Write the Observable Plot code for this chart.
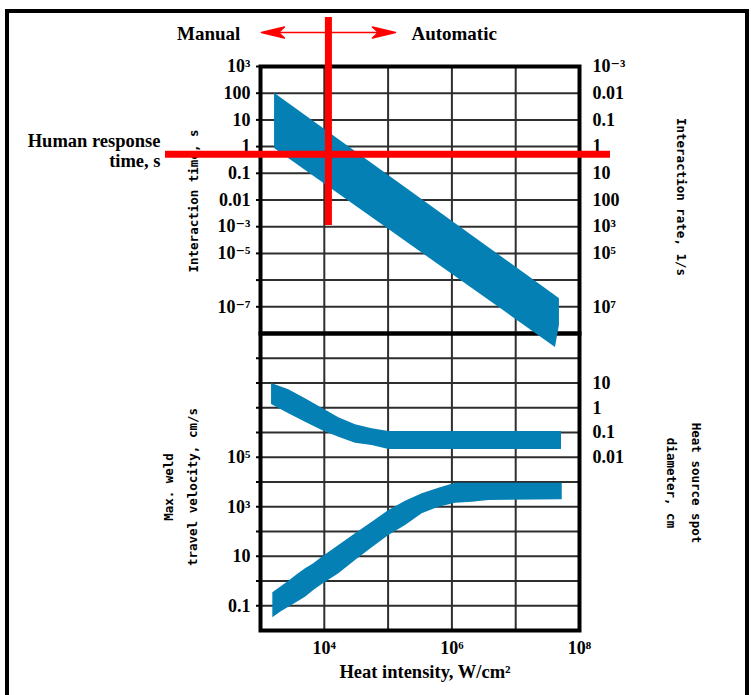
<!DOCTYPE html>
<html><head><meta charset="utf-8">
<script src="https://cdn.jsdelivr.net/npm/d3@7"></script>
<script src="https://cdn.jsdelivr.net/npm/@observablehq/plot@0.6"></script>
<style>
html,body{margin:0;padding:0;background:#fff;}
#wrap{position:relative;width:751px;height:695px;overflow:hidden;background:#fff;}
#border{position:absolute;left:5px;top:9px;width:736px;height:720px;border:4px solid #000;}
#bottom{position:absolute;left:0;top:300px;}
#top{position:absolute;left:0;top:0;}
svg{overflow:visible;}
</style></head><body>
<div id="wrap"><div id="border"></div><div id="bottom"></div><div id="top"></div></div>
<script>
// ---------- data ----------
const xDomain = [1e3, 1e8];                 // heat intensity, W/cm²
const xGrid = [1e4, 1e5, 1e6, 1e7];
const xTicks = [1e4, 1e6, 1e8];
const xTickLabels = ["10⁴", "10⁶", "10⁸"];

// top panel: interaction time (s) / interaction rate (1/s)
const timeDomain = [1e-7, 1e3];
const timeTicks = [1e3, 1e2, 10, 1, 0.1, 0.01, 1e-3, 1e-4, 1e-5, 1e-6];
const timeLabels = ["10³", "100", "10", "1", "0.1", "0.01", "10⁻³", "10⁻⁵", "", "10⁻⁷"];
const rateLabels = ["10⁻³", "0.01", "0.1", "1", "10", "100", "10³", "10⁵", "", "10⁷"];

const timeBandIntensity = [1660, 4.2e7, 4.85e7];
const timeBandMax = [100, 2.6e-6, 2.0e-6];
const timeBandMin = [0.85, 3.0e-8, 2.0e-7];

const humanResponseTime = 0.52;     // s
const manualLimit = 1.16e4;         // W/cm²
const manualLineEndTime = 1.1e-3;   // s
const modes = ["Manual", "Automatic"];

// bottom panel: max weld travel velocity (cm/s) / heat source spot diameter (cm)
const velDomain = [1e-2, 1e10];
const velGrid = [1e9, 1e8, 1e7, 1e6, 1e5, 1e4, 1e3, 1e2, 10, 1, 0.1];
const velTickValues = [1e5, 1e3, 10, 0.1];
const velTickLabels = ["10⁵", "10³", "10", "0.1"];
const diaOffset = 1e7;              // 1 cm spot diameter aligned with 10⁷ on the velocity axis
const diaTicks = [10, 1, 0.1, 0.01];
const diaTickLabels = ["10", "1", "0.1", "0.01"];

const spotIntensity = [1490, 2780, 5070, 9270, 16900, 30800, 56200, 102600, 5.22e7];
const spotMax = [9.55, 5.31, 2.30, 0.96, 0.393, 0.205, 0.141, 0.110, 0.110];
const spotMin = [1.35, 0.570, 0.261, 0.120, 0.0646, 0.037, 0.0299, 0.0206, 0.0206];

const velIntensity = [1560, 2060, 2780, 3760, 5070, 6840, 9270, 16900, 30800, 56400, 102600, 187500, 342000, 624000, 1.14e6, 2.08e6, 3.79e6, 5.36e7];
const velMax = [0.333, 0.562, 0.984, 1.77, 3.10, 4.94, 9.18, 27.2, 80.5, 238, 705, 1680, 3330, 5640, 8970, 8970, 8970, 8970];
const velMin = [0.0325, 0.0551, 0.0877, 0.140, 0.222, 0.413, 0.723, 1.95, 6.73, 21.9, 68.9, 175, 518, 962, 1400, 1530, 1790, 1900];

// ---------- tables ----------
const timeBand = timeBandIntensity.map((x, i) => ({x, min: timeBandMin[i], max: timeBandMax[i]}));
const spotBand = spotIntensity.map((x, i) => ({x, min: spotMin[i], max: spotMax[i]}));
const velBand = velIntensity.map((x, i) => ({x, min: velMin[i], max: velMax[i]}));
const timeLabelMap = new Map(timeTicks.map((d, i) => [d, timeLabels[i]]));
const rateLabelMap = new Map(timeTicks.map((d, i) => [d, rateLabels[i]]));
const xLabelMap = new Map(xTicks.map((d, i) => [d, xTickLabels[i]]));
const velLabelMap = new Map(velTickValues.map((d, i) => [d, velTickLabels[i]]));
const diaTickPos = diaTicks.map(d => d * diaOffset);
const diaLabelMap = new Map(diaTickPos.map((d, i) => [d, diaTickLabels[i]]));

// ---------- styles ----------
const serif = "'Liberation Serif', 'DejaVu Serif', serif";
const mono = "'DejaVu Sans Mono', 'Liberation Mono', monospace";
const blue = "#0580b5", red = "#ff0000", gridColor = "#2e2e2e";
const baseStyle = {fontFamily: serif, fontSize: "18px", fontWeight: "bold", background: "transparent", overflow: "visible", color: "black"};
const gridOpts = {stroke: gridColor, strokeOpacity: 1, strokeWidth: 2};
const monoText = {fontFamily: mono, fontSize: 12.5, fontWeight: "bold", textAnchor: "middle", lineAnchor: "middle"};

const arrowShape = {
  draw(ctx, l, r) {
    ctx.moveTo(0, 0);
    ctx.lineTo(0, -l + 18);
    ctx.moveTo(0, -l);
    ctx.lineTo(5.5, -l + 23);
    ctx.lineTo(0, -l + 17);
    ctx.lineTo(-5.5, -l + 23);
    ctx.closePath();
  }
};

// ---------- top panel ----------
const topPlot = Plot.plot({
  width: 751, height: 360,
  marginLeft: 260, marginRight: 172, marginTop: 66, marginBottom: 27,
  x: {type: "log", domain: xDomain, axis: null},
  y: {type: "log", domain: timeDomain},
  style: baseStyle,
  marks: [
    Plot.gridX(xGrid, gridOpts),
    Plot.gridY(timeTicks.slice(1), gridOpts),
    Plot.frame({stroke: "black", strokeWidth: 4}),
    Plot.axisY({ticks: timeTicks, tickFormat: d => timeLabelMap.get(d), anchor: "left", tickSize: 4, tickPadding: 6, strokeWidth: 2, label: null}),
    Plot.axisY({ticks: timeTicks, tickFormat: d => rateLabelMap.get(d), anchor: "right", tickSize: 0, tickPadding: 13, label: null}),
    Plot.text(["Interaction time, s"], {text: d => d, frameAnchor: "left", dx: -67, dy: 1, rotate: -90, ...monoText}),
    Plot.text(["Interaction rate, 1/s"], {text: d => d, frameAnchor: "right", dx: 101, dy: -3, rotate: 90, ...monoText}),
    Plot.areaY(timeBand, {x: "x", y1: "min", y2: "max", fill: blue}),
    Plot.ruleX([manualLimit], {x: d => d, y1: () => timeDomain[1], y2: () => manualLineEndTime, insetTop: -49, stroke: red, strokeWidth: 7}),
    Plot.ruleY([humanResponseTime], {y: d => d, x1: () => xDomain[0], x2: () => xDomain[1], insetLeft: -95, insetRight: -31, stroke: red, strokeWidth: 7}),
    Plot.text(["Human response\ntime, s"], {text: d => d, y: () => humanResponseTime, frameAnchor: "left", dx: -100, dy: -4, textAnchor: "end", lineAnchor: "middle", lineHeight: 1.1, fontSize: 18.5}),
    Plot.vector(modes, {x: () => manualLimit, frameAnchor: "top", dy: -34, length: 67, anchor: "start",
      rotate: d => d === "Manual" ? -90 : 90, shape: arrowShape, stroke: red, fill: red, strokeWidth: 1.5}),
    Plot.text(["Manual"], {text: d => d, x: () => manualLimit, frameAnchor: "top", dy: -33, dx: -88, textAnchor: "end", lineAnchor: "middle", fontSize: 19}),
    Plot.text(["Automatic"], {text: d => d, x: () => manualLimit, frameAnchor: "top", dy: -33, dx: 83, textAnchor: "start", lineAnchor: "middle", fontSize: 19})
  ]
});
document.getElementById("top").append(topPlot);

// ---------- bottom panel ----------
const bottomPlot = Plot.plot({
  width: 751, height: 395,
  marginLeft: 260, marginRight: 172, marginTop: 33, marginBottom: 65,
  x: {type: "log", domain: xDomain},
  y: {type: "log", domain: velDomain},
  style: baseStyle,
  marks: [
    Plot.gridX(xGrid, gridOpts),
    Plot.gridY(velGrid, gridOpts),
    Plot.frame({stroke: "black", strokeWidth: 4}),
    Plot.areaY(spotBand, {x: "x", y1: d => d.min * diaOffset, y2: d => d.max * diaOffset, fill: blue}),
    Plot.areaY(velBand, {x: "x", y1: "min", y2: "max", fill: blue}),
    Plot.axisY({ticks: velGrid, tickFormat: d => velLabelMap.get(d) ?? "", anchor: "left", tickSize: 4, tickPadding: 6, strokeWidth: 2, label: null}),
    Plot.axisY({ticks: diaTickPos, tickFormat: d => diaLabelMap.get(d), anchor: "right", tickSize: 0, tickPadding: 13, label: null}),
    Plot.axisX({ticks: xTicks, tickFormat: d => xLabelMap.get(d), anchor: "bottom", tickSize: 0, tickPadding: 11, label: null}),
    Plot.text(["Max. weld\ntravel velocity, cm/s"], {text: d => d, frameAnchor: "left", dx: -83, dy: 5, rotate: -90, lineHeight: 1.92, ...monoText}),
    Plot.text(["Heat source spot\ndiameter, cm"], {text: d => d, frameAnchor: "right", dx: 108, dy: 1, rotate: 90, lineHeight: 2, ...monoText}),
    Plot.text(["Heat intensity, W/cm²"], {text: d => d, frameAnchor: "bottom", dy: 42, dx: 5, lineAnchor: "middle", fontSize: 18.5})
  ]
});
document.getElementById("bottom").append(bottomPlot);
</script></body></html>
